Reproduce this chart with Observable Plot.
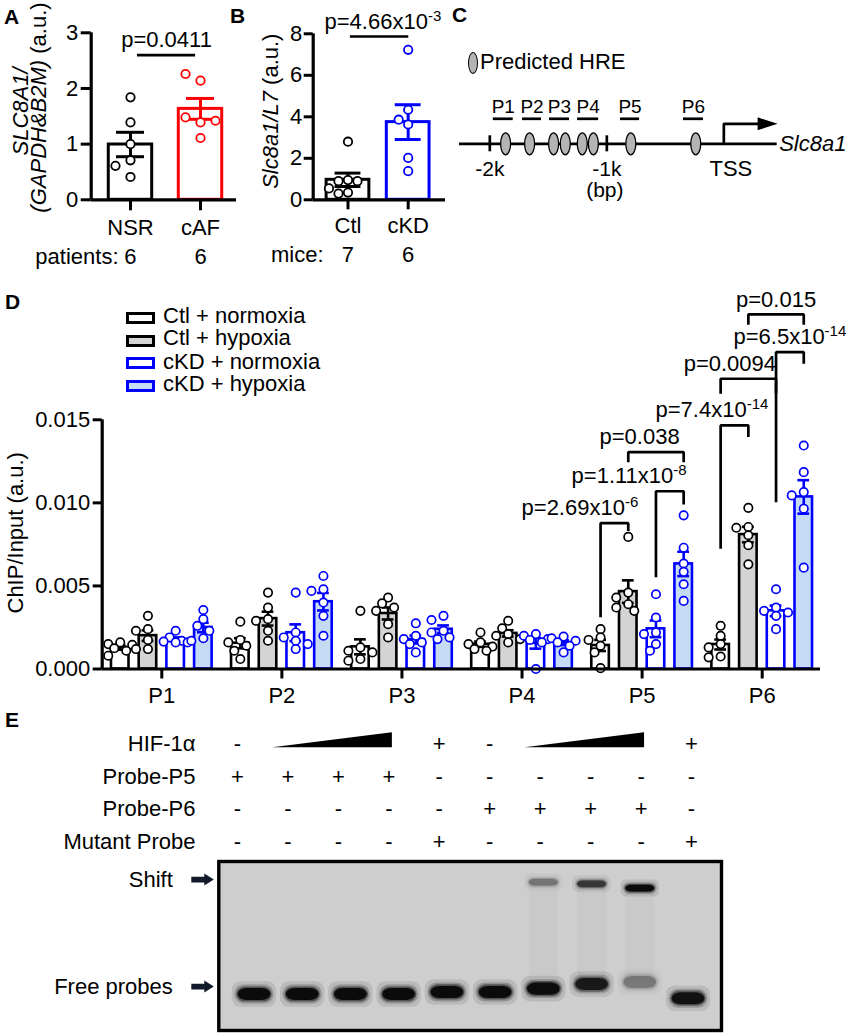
<!DOCTYPE html>
<html><head><meta charset="utf-8">
<script src="https://cdn.jsdelivr.net/npm/d3@7"></script>
<script src="https://cdn.jsdelivr.net/npm/@observablehq/plot@0.6"></script>
<style>
html,body{margin:0;padding:0;background:#fff;}
#fig{position:relative;width:858px;height:1035px;overflow:hidden;font-family:"Liberation Sans",Arial,Helvetica,sans-serif;color:#000;}
#fig svg{position:absolute;left:0;top:0;}
#fig svg g[aria-label^="x-axis"] line,#fig svg g[aria-label^="x-axis"] path,
#fig svg g[aria-label^="y-axis"] line,#fig svg g[aria-label^="y-axis"] path{stroke-width:3px !important;stroke:#000 !important;}
.letter{position:absolute;font-weight:bold;font-size:21px;line-height:21px;}
.ltxt{position:absolute;font-size:22px;line-height:22px;white-space:nowrap;}
.lbox{position:absolute;box-sizing:border-box;width:29px;height:12px;border:3px solid #000;}
</style></head>
<body><div id="fig"></div>
<script>
// ---------------- DATA ----------------
// Panel A (patients)
const aGroups = ["NSR", "cAF"];
const aPatients = [6, 6];
const aNSR = [1.84, 1.39, 1.0, 0.41, 0.71, 0.61];
const aCAF = [2.14, 2.26, 1.39, 1.48, 1.42, 1.11];
const aPValue = "p=0.0411";
// Panel B (mice)
const bGroups = ["Ctl", "cKD"];
const bMice = [7, 6];
const bCtl = [2.8, 0.95, 0.9, 0.9, 0.55, 0.35, 0.3];
const bCKD = [7.23, 4.34, 3.63, 3.86, 2.02, 1.38];
const bPValue = "p=4.66x10^-3^";
// Panel C (promoter map, bp relative to TSS)
const cHRE = [-1865, -1660, -1455, -1355, -1210, -1115, -795, -240];
const cProbeNames = ["P1", "P2", "P3", "P4", "P5", "P6"];
const cProbeStart = [-1970, -1720, -1490, -1250, -883, -345];
const cProbeEnd = [-1800, -1558, -1319, -1070, -720, -174];
const cTicks = [-2000, -1000];
const cTickLabels = ["-2k", "-1k"];
const cTSS = 0;
// Panel D (ChIP/Input)
const probes = ["P1", "P2", "P3", "P4", "P5", "P6"];
const conditions = ["Ctl + normoxia", "Ctl + hypoxia", "cKD + normoxia", "cKD + hypoxia"];
const ctlNormoxia = [
  [0.0016, 0.0015, 0.00145, 0.00125, 0.0011, 0.0008],
  [0.00285, 0.00175, 0.0016, 0.0014, 0.0011, 0.0006],
  [0.0035, 0.0013, 0.0011, 0.001, 0.0006, 0.0005],
  [0.0022, 0.0016, 0.0015, 0.00135, 0.0012, 0.0011],
  [0.0024, 0.0019, 0.00175, 0.0014, 0.001, 0.00005],
  [0.0026, 0.002, 0.0015, 0.0013, 0.00075, 0.0007]];
const ctlHypoxia = [
  [0.0032, 0.0024, 0.0023, 0.00175, 0.0012, 0.0012],
  [0.0046, 0.0037, 0.003, 0.0029, 0.0023, 0.0017],
  [0.0043, 0.00395, 0.0037, 0.0035, 0.0027, 0.0019],
  [0.0029, 0.00245, 0.0021, 0.002, 0.0018, 0.0016],
  [0.00795, 0.0046, 0.0043, 0.0039, 0.0037, 0.0035],
  [0.0097, 0.00855, 0.0085, 0.00805, 0.00745, 0.0063]];
const ckdNormoxia = [
  [0.0023, 0.0019, 0.0017, 0.00165, 0.0016, 0.0016],
  [0.0046, 0.0022, 0.0019, 0.0017, 0.0015, 0.0012],
  [0.00275, 0.002, 0.0018, 0.0016, 0.0015, 0.001],
  [0.0021, 0.002, 0.0018, 0.00175, 0.0016, 0.0],
  [0.0045, 0.0031, 0.0022, 0.0021, 0.0015, 0.0011],
  [0.0048, 0.0037, 0.0035, 0.0034, 0.0032, 0.0024]];
const ckdHypoxia = [
  [0.00355, 0.003, 0.0026, 0.0023, 0.00185, 0.0017],
  [0.0056, 0.0048, 0.0047, 0.004, 0.0032, 0.002],
  [0.0032, 0.00295, 0.0023, 0.0022, 0.0019, 0.0018],
  [0.00195, 0.00185, 0.0017, 0.0016, 0.0014, 0.001],
  [0.00925, 0.0073, 0.00635, 0.00585, 0.0051, 0.0041],
  [0.01345, 0.01185, 0.01065, 0.01045, 0.00965, 0.0061]];
const dYTicks = [0, 0.005, 0.01, 0.015];
// significance annotations: probe, condition pair, bracket top and leg ends
const dComparisons = [
  {probe: 5, a: 0, b: 1, top: 0.00878, left: 0.00312, right: 0.0083, label: "p=2.69x10^-6^"},
  {probe: 5, a: 2, b: 3, top: 0.0107, left: 0.00553, right: 0.0099, label: "p=1.11x10^-8^"},
  {probe: 5, a: 1, b: 3, top: 0.01305, left: 0.01245, right: 0.01245, label: "p=0.038"},
  {probe: 6, a: 0, b: 1, top: 0.01466, left: 0.00724, right: 0.01396, label: "p=7.4x10^-14^"},
  {probe: 6, a: 0, b: 2, top: 0.01747, left: 0.01657, right: 0.01657, label: "p=0.0094"},
  {probe: 6, a: 2, b: 3, top: 0.01907, left: 0.01004, right: 0.01837, label: "p=6.5x10^-14^"},
  {probe: 6, a: 1, b: 3, top: 0.02134, left: 0.02072, right: 0.02072, label: "p=0.015"}];
// Panel E (EMSA)
const eRows = ["HIF-1α", "Probe-P5", "Probe-P6", "Mutant Probe"];
const eHIF = ["-", "ramp", "ramp", "ramp", "+", "-", "ramp", "ramp", "ramp", "+"];
const eProbeP5 = ["+", "+", "+", "+", "-", "-", "-", "-", "-", "-"];
const eProbeP6 = ["-", "-", "-", "-", "-", "+", "+", "+", "+", "-"];
const eMutant = ["-", "-", "-", "-", "+", "-", "-", "-", "-", "+"];
const gelFreeIntensity = [1, 1, 1, 1, 1, 1, 0.97, 0.85, 0.28, 0.92];
const gelFreeMigration = [0.787, 0.787, 0.787, 0.787, 0.775, 0.775, 0.755, 0.728, 0.716, 0.812];
const gelShiftIntensity = [0, 0, 0, 0, 0, 0, 0.3, 0.62, 1];
const gelShiftMigration = [null, null, null, null, null, null, 0.125, 0.135, 0.16];
const gelMarkers = ["Shift", "Free probes"];
const gelMarkerMigration = [0.107, 0.74];

// ---------------- HELPERS ----------------
const W = 858, H = 1035;
const FONT = '"Liberation Sans", Arial, Helvetica, sans-serif';
const fig = document.getElementById("fig");
const style = {background: "transparent", fontSize: "22px", fontFamily: FONT, overflow: "visible", color: "#000"};
function frame(l, t, r, b) { return {width: W, height: H, marginLeft: l, marginTop: t, marginRight: W - r, marginBottom: H - b}; }
function stats(vals) { return {mean: d3.mean(vals), sem: d3.deviation(vals) / Math.sqrt(vals.length)}; }
function swarm(vals, center, pxX, pxY, step, minDist, maxK) {
  const placed = [];
  return vals.map(v => {
    const py = v * pxY;
    let chosen = 0, bestD = -1;
    for (let j = 0; j <= 2 * maxK; j++) {
      const k = j === 0 ? 0 : (j % 2 ? -(j + 1) / 2 : j / 2);
      const px = k * step;
      let d = Infinity;
      for (const p of placed) d = Math.min(d, Math.hypot(p.px - px, p.py - py));
      if (d >= minDist) { chosen = px; break; }
      if (d > bestD) { bestD = d; chosen = px; }
    }
    placed.push({px: chosen, py});
    return center + chosen / pxX;
  });
}
const SVGNS = "http://www.w3.org/2000/svg";
function richify(svg) {
  svg.querySelectorAll("text").forEach(el => {
    if (el.children.length) return;
    const s = el.textContent;
    if (!/[_^]/.test(s)) return;
    el.textContent = "";
    let italic = false, sup = false, raised = false;
    for (const tok of s.split(/([_^])/)) {
      if (tok === "_") { italic = !italic; continue; }
      if (tok === "^") { sup = !sup; continue; }
      if (!tok) continue;
      const t = document.createElementNS(SVGNS, "tspan");
      t.textContent = tok;
      if (italic) t.setAttribute("font-style", "italic");
      if (sup) { t.setAttribute("font-size", "15"); if (!raised) { t.setAttribute("dy", "-8"); raised = true; } }
      else if (raised) { t.setAttribute("dy", "8"); raised = false; }
      el.appendChild(t);
    }
  });
}
function add(plot) { richify(plot); fig.appendChild(plot); return plot; }
const ellipseSym = (w, h) => ({draw(ctx) {
  const rx = w / 2, ry = h / 2, k = 0.5523;
  ctx.moveTo(rx, 0);
  ctx.bezierCurveTo(rx, ry * k, rx * k, ry, 0, ry);
  ctx.bezierCurveTo(-rx * k, ry, -rx, ry * k, -rx, 0);
  ctx.bezierCurveTo(-rx, -ry * k, -rx * k, -ry, 0, -ry);
  ctx.bezierCurveTo(rx * k, -ry, rx, -ry * k, rx, 0);
  ctx.closePath();
}});
const triRight = {draw(ctx) { ctx.moveTo(-10, -6.5); ctx.lineTo(10, 0); ctx.lineTo(-10, 6.5); ctx.closePath(); }};
const gelArrow = {draw(ctx) {
  ctx.moveTo(-11, -2.9); ctx.lineTo(2, -2.9); ctx.lineTo(2, -6); ctx.lineTo(11.5, 0);
  ctx.lineTo(2, 6); ctx.lineTo(2, 2.9); ctx.lineTo(-11, 2.9); ctx.closePath();
}};
const LW = 2.7;

// ---------------- PANEL A ----------------
{
  const pxX = 70, pxY = 55.67, xmin = -0.561;
  const series = [aNSR, aCAF], colors = ["#000000", "#ff0000"];
  const bars = aGroups.map((g, i) => ({i, ...stats(series[i]), c: colors[i]}));
  const caps = bars.flatMap(d => [{i: d.i, y: d.mean + d.sem, c: d.c}, {i: d.i, y: d.mean - d.sem, c: d.c}]);
  const dots = series.flatMap((vals, i) => swarm(vals, i, pxX, pxY, 15, 10, 2).map((x, j) => ({x, v: vals[j], c: colors[i]})));
  const cmp = {from: 0, to: 1, y: 2.6, label: aPValue};
  add(Plot.plot({
    ...frame(90.7, 32.3, 236, 199.3), style,
    x: {domain: [xmin, 1.514], ticks: [0, 1], tickFormat: i => aGroups[i], tickSize: 11, tickPadding: 9, label: null},
    y: {domain: [0, 3], ticks: [0, 1, 2, 3], tickFormat: d3.format("d"), tickSize: 10, tickPadding: 3, label: null},
    color: {type: "identity"},
    marks: [
      Plot.rect(bars, {x1: d => d.i - 0.31, x2: d => d.i + 0.31, y1: 0, y2: "mean", fill: "white", stroke: "c", strokeWidth: 3}),
      Plot.ruleX(bars, {x: "i", y1: d => d.mean - d.sem, y2: d => d.mean + d.sem, stroke: "c", strokeWidth: 3}),
      Plot.ruleY(caps, {x1: d => d.i - 0.2, x2: d => d.i + 0.2, y: "y", stroke: "c", strokeWidth: 3}),
      Plot.dot(dots, {x: "x", y: "v", r: 4.2, fill: "white", stroke: "c", strokeWidth: 1.8}),
      Plot.ruleY([0], {strokeWidth: 3.2}),
      Plot.ruleX([xmin], {y1: 0, y2: 3, strokeWidth: 3.2}),
      Plot.ruleY([cmp], {x1: d => d.from + 0.1, x2: d => d.to - 0.07, y: "y", strokeWidth: LW}),
      Plot.text([cmp], {x: d => (d.from + d.to) / 2 + 0.015, y: "y", dy: -15, text: "label"}),
      Plot.text(["_SLC8A1/_"], {frameAnchor: "left", textAnchor: "middle", lineAnchor: "middle", dx: -70.7, dy: -4.8, rotate: -90}),
      Plot.text(["_(GAPDH&B2M)_ (a.u.)"], {frameAnchor: "left", textAnchor: "middle", lineAnchor: "middle", dx: -52.7, dy: -8.8, rotate: -90}),
      Plot.text(["patients:"], {frameAnchor: "bottom-left", lineAnchor: "middle", dx: 27.3, dy: 57, textAnchor: "end"}),
      Plot.text(aPatients, {x: (d, i) => i, frameAnchor: "bottom", lineAnchor: "middle", dy: 57, text: d => String(d)})
    ]
  }));
}

// ---------------- PANEL B ----------------
{
  const pxX = 60.2, pxY = 20.75, xmin = -0.578;
  const series = [bCtl, bCKD], colors = ["#000000", "#0000ff"];
  const bars = bGroups.map((g, i) => ({i, ...stats(series[i]), c: colors[i]}));
  const caps = bars.flatMap(d => [{i: d.i, y: d.mean + d.sem, c: d.c}, {i: d.i, y: d.mean - d.sem, c: d.c}]);
  const dots = series.flatMap((vals, i) => swarm(vals, i, pxX, pxY, 9.5, 9, 2).map((x, j) => ({x, v: vals[j], c: colors[i]})));
  const cmp = {from: 0, to: 1, y: 7.87, label: bPValue};
  add(Plot.plot({
    ...frame(312.7, 33.3, 445, 199.3), style,
    x: {domain: [xmin, 1.62], ticks: [0, 1], tickFormat: i => bGroups[i], tickSize: 10, tickPadding: 8, label: null},
    y: {domain: [0, 8], ticks: [0, 2, 4, 6, 8], tickFormat: d3.format("d"), tickSize: 9, tickPadding: 2, label: null},
    color: {type: "identity"},
    marks: [
      Plot.rect(bars, {x1: d => d.i - 0.355, x2: d => d.i + 0.355, y1: 0, y2: "mean", fill: "white", stroke: "c", strokeWidth: 3}),
      Plot.ruleX(bars, {x: "i", y1: d => d.mean - d.sem, y2: d => d.mean + d.sem, stroke: "c", strokeWidth: 3}),
      Plot.ruleY(caps, {x1: d => d.i - 0.215, x2: d => d.i + 0.215, y: "y", stroke: "c", strokeWidth: 3}),
      Plot.dot(dots, {x: "x", y: "v", r: 4.2, fill: "white", stroke: "c", strokeWidth: 1.8}),
      Plot.ruleY([0], {strokeWidth: 3.2}),
      Plot.ruleX([xmin], {y1: 0, y2: 8, strokeWidth: 3.2}),
      Plot.ruleY([cmp], {x1: d => d.from + 0.04, x2: d => d.to + 0.01, y: "y", strokeWidth: LW}),
      Plot.text([cmp], {x: d => (d.from + d.to) / 2 + 0.08, y: "y", dy: -15, text: "label"}),
      Plot.text(["_Slc8a1/L7_ (a.u.)"], {frameAnchor: "left", textAnchor: "middle", lineAnchor: "middle", dx: -42.7, dy: -5.6, rotate: -90}),
      Plot.text(["mice:"], {frameAnchor: "bottom-left", lineAnchor: "middle", dx: 10.3, dy: 55, textAnchor: "end"}),
      Plot.text(bMice, {x: (d, i) => i, frameAnchor: "bottom", lineAnchor: "middle", dy: 55, text: d => String(d)})
    ]
  }));
}

// ---------------- PANEL C ----------------
{
  const cProbes = cProbeNames.map((n, i) => ({n, s: cProbeStart[i], e: cProbeEnd[i]}));
  add(Plot.plot({
    ...frame(459, 118.3, 776.7, 143.3), style: {...style, fontSize: "21px"},
    x: {domain: [-2259, 456], axis: null},
    y: {domain: [0, 1], axis: null},
    marks: [
      Plot.ruleY([0], {strokeWidth: LW}),
      Plot.ruleX(cTicks, {y1: -0.32, y2: 0.32, strokeWidth: LW}),
      Plot.text(cTicks, {x: d => d, y: 0, dy: 25.5, text: (d, i) => cTickLabels[i]}),
      Plot.text(["(bp)"], {x: cTicks[1], y: 0, dx: -2, dy: 46.5}),
      Plot.dot(cHRE, {x: d => d, y: 0, symbol: ellipseSym(10, 22), fill: "#b4b4b4", stroke: "#000", strokeWidth: 1.3}),
      Plot.ruleY(cProbes, {x1: "s", x2: "e", y: 1, strokeWidth: LW}),
      Plot.text(cProbes, {x: d => (d.s + d.e) / 2, y: 1, dy: -12, text: "n", fontSize: 19}),
      Plot.line([{x: cTSS, y: 0}, {x: cTSS, y: 0.8}, {x: cTSS + 300, y: 0.8}], {x: "x", y: "y", strokeWidth: LW, strokeLinejoin: "miter", strokeLinecap: "butt"}),
      Plot.dot([{x: cTSS + 374, y: 0.8}], {x: "x", y: "y", symbol: triRight, fill: "#000", stroke: "none"}),
      Plot.text(["_Slc8a1_"], {frameAnchor: "bottom-right", textAnchor: "start", lineAnchor: "middle", dx: 2, fontSize: 22}),
      Plot.text(["TSS"], {x: cTSS, y: 0, dx: 7, dy: 25.5, fontSize: 22})
    ]
  }));
}

// ---------------- PANEL D ----------------
{
  const pxX = 120.08, pxY = 16613, xmin = 0.5037;
  const series = [ctlNormoxia, ctlHypoxia, ckdNormoxia, ckdHypoxia];
  const strokes = ["#000000", "#000000", "#0000ff", "#0000ff"];
  const fills = ["#ffffff", "#d4d4d4", "#ffffff", "#c5daf3"];
  const step = 0.2307, half = 0.073, cap = 0.049;
  const pos = (p, c) => p + (c - 1.5) * step;
  const bars = [], dots = [];
  probes.forEach((p, pi) => series.forEach((s, ci) => {
    const cx = pos(pi + 1, ci);
    bars.push({cx, ...stats(s[pi]), stroke: strokes[ci], fill: fills[ci]});
    swarm(s[pi], cx, pxX, pxY, 6, 8, 2).forEach((x, j) => dots.push({x, v: s[pi][j], stroke: strokes[ci]}));
  }));
  const caps = bars.flatMap(d => [{cx: d.cx, y: d.mean + d.sem, stroke: d.stroke}, {cx: d.cx, y: d.mean - d.sem, stroke: d.stroke}]);
  const brLines = dComparisons.flatMap((d, k) => {
    const x1 = pos(d.probe, d.a), x2 = pos(d.probe, d.b);
    return [{k, x: x1, y: d.left}, {k, x: x1, y: d.top}, {k, x: x2, y: d.top}, {k, x: x2, y: d.right}];
  });
  // label placement (style): right-aligned with pixel nudge, or centred on the bracket
  const labelAlign = ["end", "end", "end", "end", "end", "middle", "middle"];
  const labelNudge = [10, 3, -4, 20, 0, 0, 0];
  const brLabels = dComparisons.map((d, k) => ({...d, x1: pos(d.probe, d.a), x2: pos(d.probe, d.b), align: labelAlign[k], nudge: labelNudge[k] / pxX}));
  add(Plot.plot({
    ...frame(101.7, 419.3, 820, 668.5), style,
    x: {domain: [xmin, 6.4855], ticks: [1, 2, 3, 4, 5, 6], tickFormat: i => probes[i - 1], tickSize: 10, tickPadding: 8.5, label: null},
    y: {domain: [0, 0.015], ticks: dYTicks, tickFormat: d3.format(".3f"), tickSize: 9, tickPadding: 3, label: null},
    color: {type: "identity"},
    marks: [
      Plot.rect(bars, {x1: d => d.cx - half, x2: d => d.cx + half, y1: 0, y2: "mean", fill: "fill", stroke: "stroke", strokeWidth: 2.6}),
      Plot.ruleX(bars, {x: "cx", y1: d => d.mean - d.sem, y2: d => d.mean + d.sem, stroke: "stroke", strokeWidth: 2.6}),
      Plot.ruleY(caps, {x1: d => d.cx - cap, x2: d => d.cx + cap, y: "y", stroke: "stroke", strokeWidth: 2.6}),
      Plot.dot(dots, {x: "x", y: "v", r: 4.2, fill: "white", stroke: "stroke", strokeWidth: 1.7}),
      Plot.ruleY([0], {strokeWidth: 3.2}),
      Plot.ruleX([xmin], {y1: 0, y2: 0.015, strokeWidth: 3.2}),
      Plot.line(brLines, {x: "x", y: "y", z: "k", stroke: "#000", strokeWidth: LW, strokeLinejoin: "miter", strokeLinecap: "butt"}),
      Plot.text(brLabels.filter(d => d.align === "end"), {x: d => d.x2 + d.nudge, y: "top", dy: -15, textAnchor: "end", text: "label"}),
      Plot.text(brLabels.filter(d => d.align === "middle"), {x: d => (d.x1 + d.x2) / 2, y: "top", dy: -15, text: "label"}),
      Plot.text(["ChIP/Input (a.u.)"], {frameAnchor: "left", textAnchor: "middle", lineAnchor: "middle", dx: -86.7, dy: -11.6, rotate: -90})
    ]
  }));
  // legend (HTML, above the chart)
  const boxC = [317.5, 340.8, 363.3, 386.2], base = [323.3, 346, 369.3, 392];
  conditions.forEach((c, i) => {
    const b = document.createElement("div");
    b.className = "lbox";
    b.style.left = "126px"; b.style.top = (boxC[i] - 6) + "px";
    b.style.borderColor = strokes[i]; b.style.background = fills[i];
    fig.appendChild(b);
    const t = document.createElement("div");
    t.className = "ltxt"; t.textContent = c;
    t.style.left = "163px"; t.style.top = (base[i] - 18.6) + "px";
    fig.appendChild(t);
  });
}

// ---------------- PANEL E: condition table ----------------
{
  const rowsData = [eHIF, eProbeP5, eProbeP6, eMutant];
  const cells = [];
  rowsData.forEach((row, r) => row.forEach((s, l) => { if (s !== "ramp") cells.push({lane: l + 1, row: r, s}); }));
  const wedges = [];
  let start = null;
  eHIF.forEach((s, l) => {
    if (s === "ramp" && start === null) start = l + 1;
    if ((s !== "ramp" || l === eHIF.length - 1) && start !== null) {
      const end = s === "ramp" ? l + 1 : l;
      const w = wedges.length;
      wedges.push({w, x: start - 0.3, y1: 0.12, y2: 0.12});
      wedges.push({w, x: end + 0.07, y1: 0.12, y2: -0.335});
      start = null;
    }
  });
  add(Plot.plot({
    ...frame(237, 743.3, 691, 841.7), style,
    x: {domain: [1, 10], axis: null},
    y: {domain: [0, 3], reverse: true, axis: null},
    marks: [
      Plot.text(eRows, {y: (d, i) => i, frameAnchor: "left", lineAnchor: "middle", dx: -42, textAnchor: "end"}),
      Plot.text(cells, {x: "lane", y: "row", text: "s"}),
      Plot.areaY(wedges, {x: "x", y1: "y1", y2: "y2", z: "w", fill: "#000", curve: "linear"})
    ]
  }));
}

// ---------------- PANEL E: gel ----------------
{
  const free = gelFreeIntensity.map((v, i) => ({lane: i + 1, m: gelFreeMigration[i], v}));
  const shift = gelShiftIntensity.map((v, i) => ({lane: i + 1, m: gelShiftMigration[i], v})).filter(d => d.v > 0);
  const smear = shift.map(d => ({lane: d.lane, m1: d.m, m2: free[d.lane - 1].m}));
  const markers = gelMarkers.map((t, i) => ({t, m: gelMarkerMigration[i]}));
  // soft-edged bands drawn as concentric rounded rectangles (halo layers + core)
  const layer = (bands, hw, hh, layers) => bands.flatMap(b => layers.map(([gx, gy, o]) => ({
    x1: b.lane - hw - gx, x2: b.lane + hw + gx, y1: b.m - hh - gy, y2: b.m + hh + gy, o: b.v * o})));
  const freeLayers = layer(free, 0.34, 0.036, [[0.12, 0.04, 0.1], [0.065, 0.02, 0.22], [0.028, 0.009, 0.45], [0, 0, 0.92]]);
  const shiftLayers = layer(shift, 0.3, 0.02, [[0.1, 0.03, 0.1], [0.05, 0.015, 0.22], [0.02, 0.006, 0.45], [0, 0, 0.92]]);
  add(Plot.plot({
    ...frame(218.3, 861, 721, 1030), style,
    x: {domain: [0.26, 10.685], axis: null},
    y: {domain: [0, 1], reverse: true, axis: null},
    opacity: {domain: [0, 1], range: [0, 1]},
    marks: [
      Plot.frame({fill: "#cecece", stroke: "none"}),
      Plot.rect(smear, {x1: d => d.lane - 0.3, x2: d => d.lane + 0.3, y1: "m1", y2: "m2", fill: "#000", fillOpacity: 0.022}),
      Plot.rect(shiftLayers, {x1: "x1", x2: "x2", y1: "y1", y2: "y2", rx: 6, fill: "#050505", fillOpacity: "o"}),
      Plot.rect(freeLayers, {x1: "x1", x2: "x2", y1: "y1", y2: "y2", rx: 9, fill: "#050505", fillOpacity: "o"}),
      Plot.frame({stroke: "#000", strokeWidth: 3.4}),
      Plot.dot(markers, {y: "m", frameAnchor: "left", dx: -16.5, symbol: gelArrow, fill: "#111a2b", stroke: "none"}),
      Plot.text(markers, {y: "m", frameAnchor: "left", lineAnchor: "middle", dx: -46, textAnchor: "end", text: "t"})
    ]
  }));
}

// ---------------- panel letters ----------------
[["A", 4, 23.3], ["B", 230, 22.7], ["C", 452, 21.7], ["D", 5, 308.3], ["E", 5, 726.7]].forEach(([t, x, b]) => {
  const d = document.createElement("div");
  d.className = "letter"; d.textContent = t;
  d.style.left = x + "px"; d.style.top = (b - 17.8) + "px";
  fig.appendChild(d);
});
// panel C legend
{
  const e = document.createElement("div");
  e.style.cssText = "position:absolute;left:468.3px;top:52.3px;width:10px;height:22px;box-sizing:border-box;border:1.3px solid #000;border-radius:50%;background:#b4b4b4;";
  fig.appendChild(e);
  const t = document.createElement("div");
  t.className = "ltxt"; t.textContent = "Predicted HRE";
  t.style.left = "480px"; t.style.top = (70 - 18.6) + "px";
  fig.appendChild(t);
}
</script>
</body></html>
